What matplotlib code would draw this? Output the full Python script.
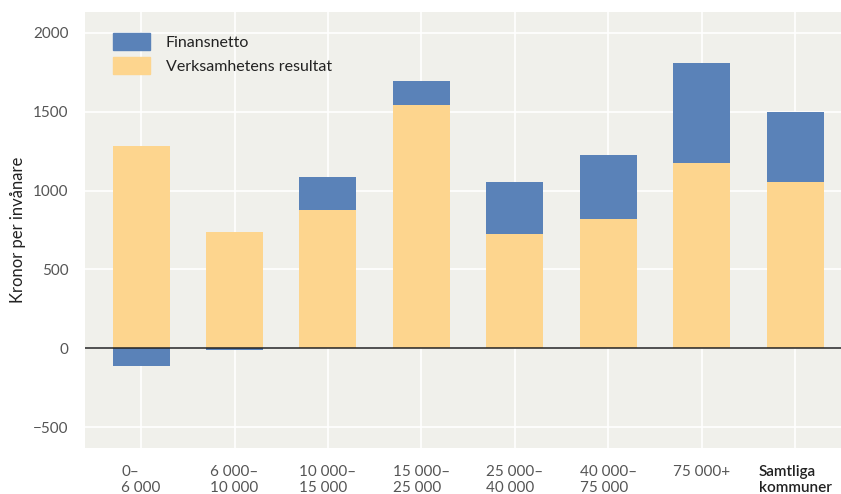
import numpy as np
import matplotlib.pyplot as plt
from matplotlib.patches import Patch

# Data
kategorier = ["0–\n6 000", "6 000–\n10 000", "10 000–\n15 000", "15 000–\n25 000",
              "25 000–\n40 000", "40 000–\n75 000", "75 000+", "Samtliga\nkommuner"]
verksamhet = [1280, 740, 875, 1540, 723, 818, 1173, 1053]
finansnetto = [-110, -10, 210, 152, 330, 406, 633, 443]

gul = "#fdd58e"
bla = "#5a82b8"
bg = "#f0f0eb"

plt.rcParams["font.family"] = ["Lato", "DejaVu Sans"]

fig = plt.figure(figsize=(8.41, 4.94), dpi=100)
ax = fig.add_axes([85 / 841, 1 - 448 / 494, 756 / 841, 436 / 494])
ax.set_facecolor(bg)

x = np.arange(len(kategorier))
w = 0.61
ax.bar(x, verksamhet, width=w, color=gul, zorder=2)
botten = [v if f > 0 else 0 for v, f in zip(verksamhet, finansnetto)]
ax.bar(x, finansnetto, width=w, bottom=botten, color=bla, zorder=2)

ax.axhline(0, color="#222222", lw=1.1, zorder=3)

ax.set_ylim(-630, 2130)
ax.set_xlim(-0.6, 7.49)
ax.set_yticks([-500, 0, 500, 1000, 1500, 2000])
ax.set_yticklabels(["−500", "0", "500", "1000", "1500", "2000"])
ax.set_xticks(x)
ax.set_xticklabels(kategorier, multialignment="left")
ax.grid(True, color="white", lw=1.2, zorder=0)
ax.set_axisbelow(True)
for s in ax.spines.values():
    s.set_visible(False)
ax.tick_params(length=0, labelsize=11, colors="#555555", pad=12)
ax.tick_params(axis="y", pad=12)
lbl = ax.get_xticklabels()[-1]
lbl.set_color("#222222")
lbl.set_fontweight("semibold")

ax.set_ylabel("Kronor per invånare", fontsize=12, color="#222222", labelpad=5)

handles = [Patch(color=bla, label="Finansnetto"),
           Patch(color=gul, label="Verksamhetens resultat")]
leg = ax.legend(handles=handles, loc="upper left", bbox_to_anchor=(0.018, 0.985),
                frameon=False, fontsize=11.5, handlelength=2.3, handleheight=1.3,
                handletextpad=1.0, labelspacing=0.4)
for t in leg.get_texts():
    t.set_color("#222222")

fig.savefig("out.png", dpi=100)
